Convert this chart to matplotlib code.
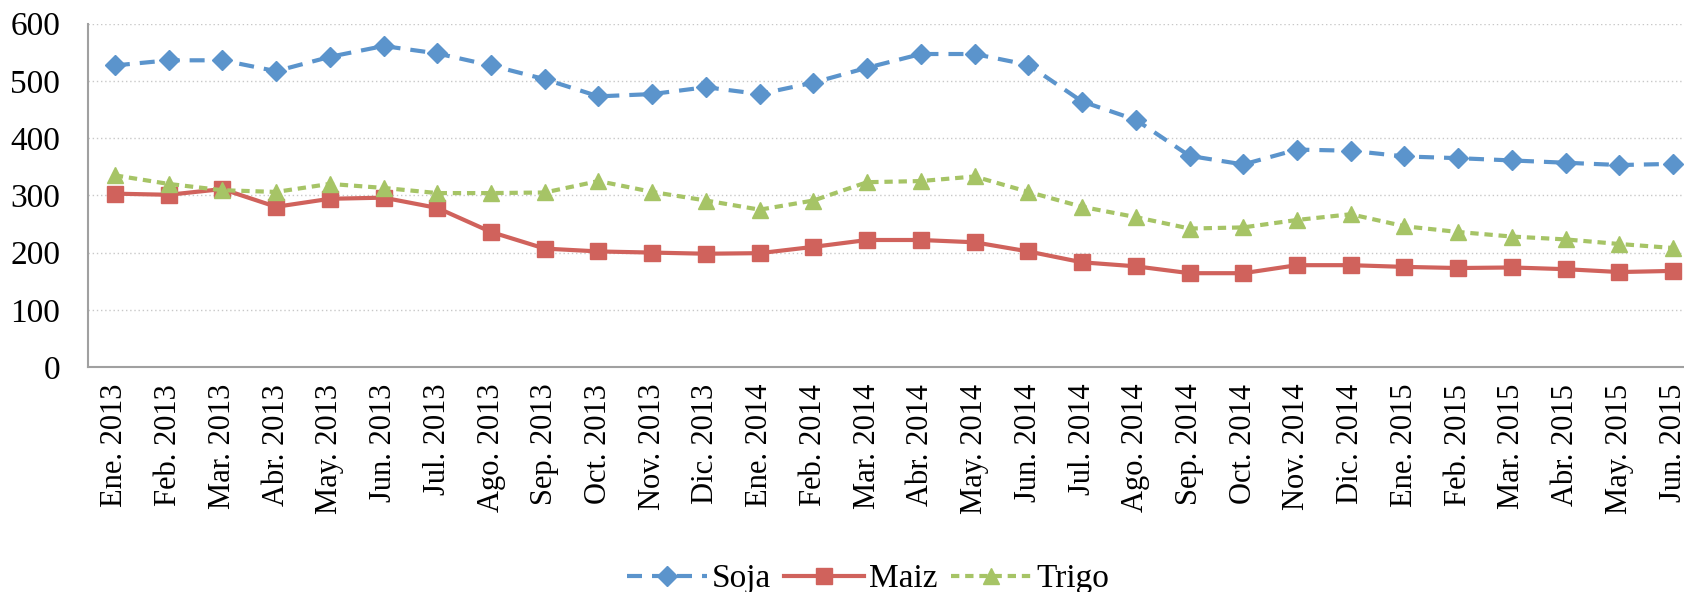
import numpy as np
import matplotlib.pyplot as plt

# Precios internacionales (u$s/tn)
meses = ["Ene. 2013", "Feb. 2013", "Mar. 2013", "Abr. 2013", "May. 2013", "Jun. 2013",
         "Jul. 2013", "Ago. 2013", "Sep. 2013", "Oct. 2013", "Nov. 2013", "Dic. 2013",
         "Ene. 2014", "Feb. 2014", "Mar. 2014", "Abr. 2014", "May. 2014", "Jun. 2014",
         "Jul. 2014", "Ago. 2014", "Sep. 2014", "Oct. 2014", "Nov. 2014", "Dic. 2014",
         "Ene. 2015", "Feb. 2015", "Mar. 2015", "Abr. 2015", "May. 2015", "Jun. 2015"]

soja = [527, 536, 536, 517, 542, 561, 548, 527, 503, 473,
        477, 489, 477, 497, 523, 547, 547, 528, 464, 432,
        369, 354, 380, 378, 368, 365, 361, 357, 353, 355]

maiz = [303, 301, 311, 280, 294, 296, 278, 236, 207, 202,
        200, 198, 199, 210, 222, 222, 218, 202, 183, 176,
        164, 164, 178, 178, 175, 173, 174, 171, 166, 168]

trigo = [335, 320, 309, 306, 320, 313, 304, 304, 305, 325,
         306, 291, 275, 291, 323, 325, 333, 306, 280, 262,
         242, 244, 257, 267, 246, 236, 228, 223, 215, 208]

plt.rcParams["font.family"] = "Liberation Serif"
plt.rcParams["font.size"] = 22

x = np.arange(len(meses))

fig = plt.figure(figsize=(16.84, 5.92), dpi=100)
ax = fig.add_axes([88 / 1684, 0.380, (1700 - 88) / 1684, 0.580])

ax.plot(x, soja, color="#5B94CC", linewidth=3, dashes=(3.6, 2.4),
        marker="D", markersize=10, label="Soja")
ax.plot(x, maiz, color="#D0625C", linewidth=3,
        marker="s", markersize=12, label="Maiz")
ax.plot(x, trigo, color="#A6C466", linewidth=3, dashes=(2.0, 1.4),
        marker="^", markersize=12, label="Trigo")

ax.set_xlim(-0.5, len(meses) - 0.5)
ax.set_ylim(0, 600)
ax.set_yticks(range(0, 601, 100))
ax.set_xticks(x)
ax.set_xticklabels(meses, rotation=90)
ax.tick_params(axis="both", length=0, pad=12)
ax.tick_params(axis="y", labelsize=24, pad=20)

ax.grid(axis="y", color="#C8C8C8", linestyle=(0, (1, 2)), linewidth=1)
ax.set_axisbelow(True)
for lado in ["top", "right"]:
    ax.spines[lado].set_visible(False)
for lado in ["left", "bottom"]:
    ax.spines[lado].set_color("#A0A0A0")
    ax.spines[lado].set_linewidth(1.5)

fig.legend(loc="center", bbox_to_anchor=(868 / 1684, 1 - 579 / 592), ncol=3,
           frameon=False, fontsize=24, handlelength=2.4, columnspacing=0.4,
           handletextpad=0.15)

fig.savefig("out.png", dpi=100)
